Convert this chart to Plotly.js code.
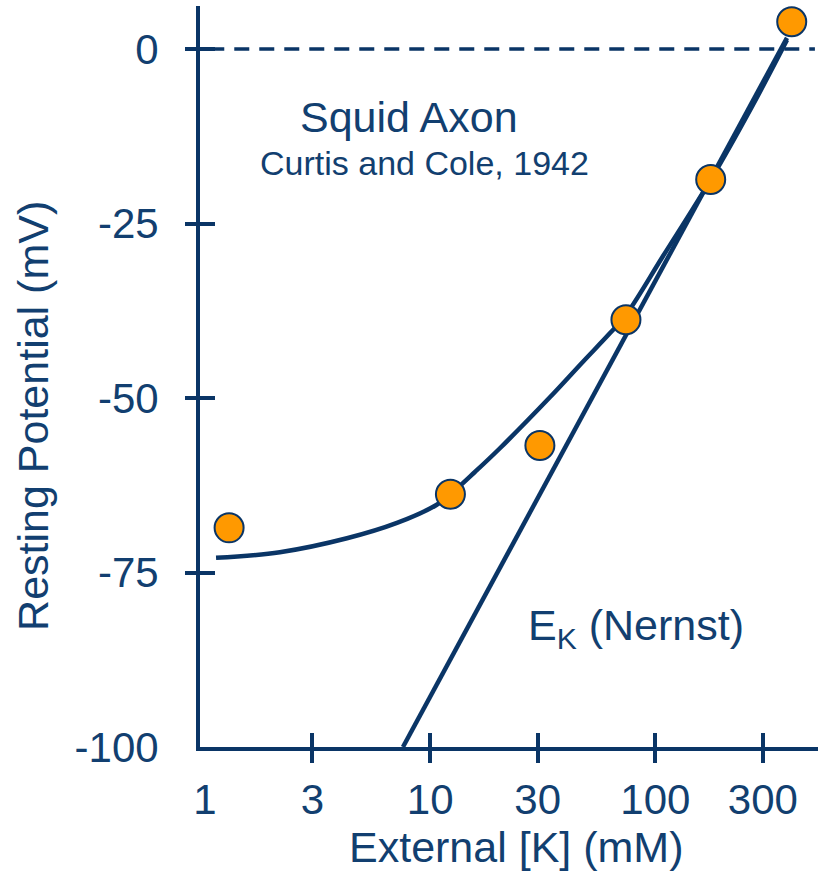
<!DOCTYPE html>
<html>
<head>
<meta charset="utf-8">
<script src="https://cdn.plot.ly/plotly-3.0.1.min.js"></script>
<style>html,body{margin:0;padding:0;background:#fff;}#chart{width:818px;height:876px;}</style>
</head>
<body>
<div id="chart"></div>
<script>
// ---- data ----
const dataK = [1.28, 12.3, 30.7, 74.0, 176, 403];          // external [K] (mM)
const dataV = [-68.6, -63.8, -56.8, -38.8, -18.7, 3.9];    // resting potential (mV)

const fitK = [1.12, 2.15, 4.27, 7.12, 10.7, 12.2, 15.8, 20.4, 34.0, 47.7, 62.9, 74.0, 108, 177, 271, 384];
const fitV = [-72.9, -72.1, -70.1, -67.9, -65.3, -63.9, -60.6, -57.2, -49.9, -44.8, -40.7, -38.1, -29.7, -18.6, -8.0, 1.3];

const nernstK = [7.57, 384];
const nernstV = [-100, 1.6];

const xTickVals = [1, 3, 10, 30, 100, 300];
const xTickText = ['1', '3', '10', '30', '100', '300'];
const xMarkVals = [3, 10, 30, 100, 300];
const yTickVals = [0, -25, -50, -75, -100];
const yTickText = ['0', '-25', '-50', '-75', '-100'];
const yMarkVals = [0, -25, -50, -75];
const zeroLevel = 0;

// ---- style ----
const NAVY = '#0a3566';
const TEXT = '#123f70';
const ORANGE = '#ff9900';
const FONT = 'Liberation Sans, Arial, sans-serif';
const xRange = [-0.022, 2.722];
const yRange = [-100, 6.16];

const traces = [
  {x: fitK, y: fitV, mode: 'lines', line: {color: NAVY, width: 4.5, shape: 'spline', smoothing: 1},
   hoverinfo: 'skip', showlegend: false},
  {x: nernstK, y: nernstV, mode: 'lines', line: {color: NAVY, width: 4.5},
   hoverinfo: 'skip', showlegend: false},
  {x: dataK, y: dataV, mode: 'markers',
   marker: {size: 29, color: ORANGE, line: {color: NAVY, width: 2}},
   cliponaxis: false, hoverinfo: 'skip', showlegend: false},
  {x: [], y: [], xaxis: 'x2', yaxis: 'y2', mode: 'markers', showlegend: false, hoverinfo: 'skip'},
  {x: [], y: [], xaxis: 'x3', yaxis: 'y3', mode: 'markers', showlegend: false, hoverinfo: 'skip'}
];

const baseX = {type: 'log', range: xRange, showgrid: false, zeroline: false, fixedrange: true};
const baseY = {range: yRange, showgrid: false, zeroline: false, fixedrange: true};

const layout = {
  width: 818, height: 876,
  margin: {l: 200, r: 0, t: 6, b: 129, pad: 0},
  paper_bgcolor: '#ffffff', plot_bgcolor: '#ffffff',
  font: {family: FONT, color: TEXT},
  xaxis: Object.assign({}, baseX, {
    tickmode: 'array', tickvals: xTickVals, ticktext: xTickText, ticks: '',
    showline: true, linecolor: NAVY, linewidth: 4,
    tickfont: {size: 42, color: TEXT, family: FONT}, ticklabelstandoff: 13
  }),
  xaxis2: Object.assign({}, baseX, {
    overlaying: 'x', anchor: 'y2', side: 'bottom',
    tickmode: 'array', tickvals: xMarkVals, ticks: 'outside', ticklen: 15, tickwidth: 4, tickcolor: NAVY,
    showticklabels: false, showline: false
  }),
  xaxis3: Object.assign({}, baseX, {
    overlaying: 'x', anchor: 'y3', side: 'bottom',
    tickmode: 'array', tickvals: xMarkVals, ticks: 'inside', ticklen: 14, tickwidth: 4, tickcolor: NAVY,
    showticklabels: false, showline: false
  }),
  yaxis: Object.assign({}, baseY, {
    tickmode: 'array', tickvals: yTickVals, ticktext: yTickText, ticks: '',
    showline: true, linecolor: NAVY, linewidth: 4,
    tickfont: {size: 42, color: TEXT, family: FONT}, ticklabelstandoff: 29
  }),
  yaxis2: Object.assign({}, baseY, {
    overlaying: 'y', anchor: 'x2', side: 'left',
    tickmode: 'array', tickvals: yMarkVals, ticks: 'inside', ticklen: 15, tickwidth: 4, tickcolor: NAVY,
    showticklabels: false, showline: false
  }),
  yaxis3: Object.assign({}, baseY, {
    overlaying: 'y', anchor: 'x3', side: 'left',
    tickmode: 'array', tickvals: yMarkVals, ticks: 'outside', ticklen: 14, tickwidth: 4, tickcolor: NAVY,
    showticklabels: false, showline: false
  }),
  shapes: [
    {type: 'line', xref: 'paper', yref: 'y', x0: 0.015, x1: 0.995, y0: zeroLevel, y1: zeroLevel,
     line: {color: NAVY, width: 3.5, dash: '15px,10px'}, layer: 'below'}
  ],
  annotations: [
    {text: 'Resting Potential (mV)', xref: 'paper', yref: 'paper', x: -0.270, y: 0.447,
     textangle: -90, showarrow: false, xanchor: 'center', yanchor: 'middle',
     font: {size: 43, color: TEXT, family: FONT}},
    {text: 'External [K] (mM)', xref: 'paper', yref: 'paper', x: 0.512, y: -0.135,
     showarrow: false, xanchor: 'center', yanchor: 'middle',
     font: {size: 43, color: TEXT, family: FONT}},
    {text: 'Squid Axon', xref: 'paper', yref: 'paper', x: 0.338, y: 0.850,
     showarrow: false, xanchor: 'center', yanchor: 'middle',
     font: {size: 43, color: TEXT, family: FONT}},
    {text: 'Curtis and Cole, 1942', xref: 'paper', yref: 'paper', x: 0.364, y: 0.788,
     showarrow: false, xanchor: 'center', yanchor: 'middle',
     font: {size: 34, color: TEXT, family: FONT}},
    {text: 'E<sub>K</sub> (Nernst)', xref: 'paper', yref: 'paper', x: 0.527, y: 0.1606,
     showarrow: false, xanchor: 'left', yanchor: 'middle',
     font: {size: 43, color: TEXT, family: FONT}}
  ]
};

Plotly.newPlot('chart', traces, layout, {displayModeBar: false, staticPlot: true});
</script>
</body>
</html>
